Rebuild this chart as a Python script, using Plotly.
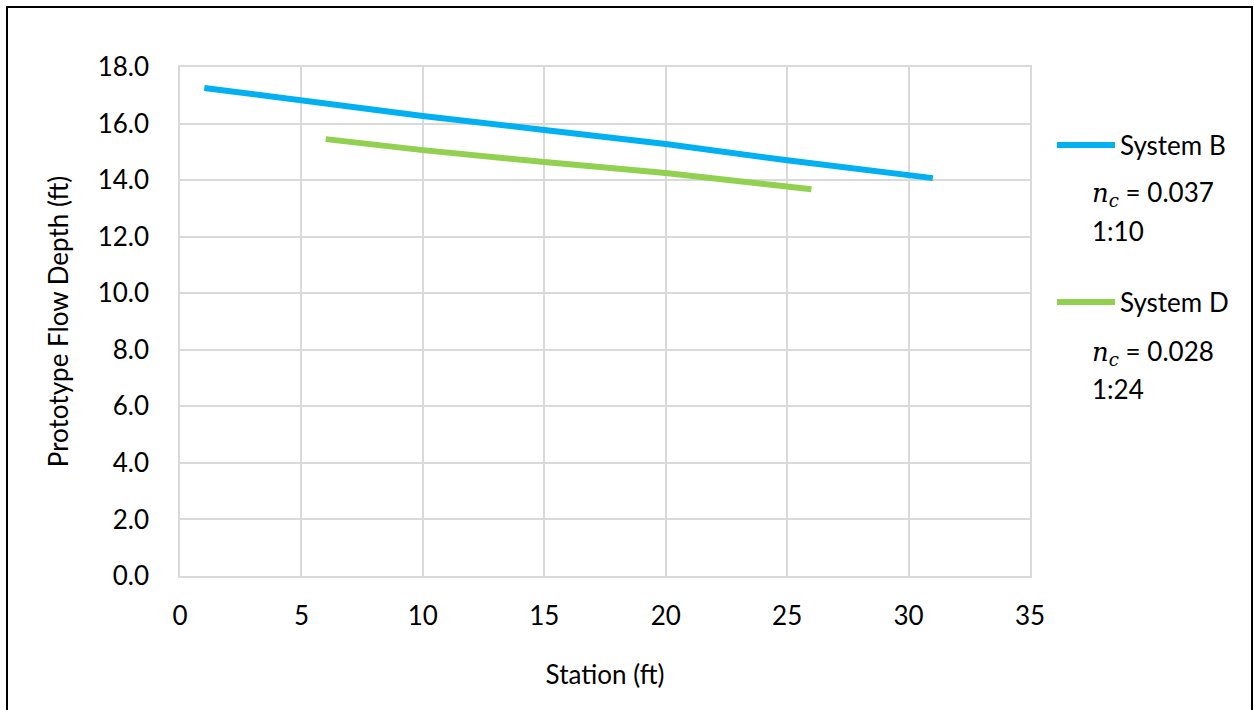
import plotly.graph_objects as go

# Data
station_b = [1, 5, 10, 15, 20, 25, 31]
depth_b = [17.26, 16.80, 16.27, 15.77, 15.28, 14.70, 14.07]
station_d = [6, 10, 15, 20, 26]
depth_d = [15.45, 15.06, 14.64, 14.25, 13.68]

name_b = "System B"
name_d = "System D"
NC = '<span style="font-family:DejaVu Serif"><i>n</i><sub><i>c</i></sub></span>'
note_b = [NC + " = 0.037", "1:10"]
note_d = [NC + " = 0.028", "1:24"]

FONT = "Lato"
FS = 26
W, H = 1254, 710
L, R, T, B = 180, 224, 67, 134
PW, PH = W - L - R, H - T - B

def px_x(p):
    return (p - L) / PW

def px_y(p):
    return (H - B - p) / PH

fig = go.Figure()
fig.add_trace(go.Scatter(x=station_b, y=depth_b, mode="lines", name=name_b, showlegend=True,
                         line=dict(color="#00B0F0", width=6), legend="legend"))
fig.add_trace(go.Scatter(x=station_d, y=depth_d, mode="lines", name=name_d, showlegend=True,
                         line=dict(color="#92D050", width=6), legend="legend2"))

legend_common = dict(font=dict(family=FONT, size=FS, color="#000"), bgcolor="rgba(0,0,0,0)",
                     xanchor="left", yanchor="middle", itemwidth=58)
fig.update_layout(
    width=W, height=H,
    margin=dict(l=L, r=R, t=T, b=B),
    paper_bgcolor="white", plot_bgcolor="white",
    font=dict(family=FONT, size=FS, color="#000"),
    legend=dict(x=px_x(1052), y=px_y(145), **legend_common),
    legend2=dict(x=px_x(1052), y=px_y(302), **legend_common),
    xaxis=dict(range=[0, 35], dtick=5, showgrid=True, gridcolor="#d9d9d9", gridwidth=1.5,
               zeroline=False, showline=True, linecolor="#d9d9d9", linewidth=1.5, mirror=True,
               ticks="", ticklabelstandoff=16,
               title=dict(text="Station (ft)", font=dict(family=FONT, size=FS), standoff=36)),
    yaxis=dict(range=[0, 18], dtick=2, tickformat=".1f", showgrid=True, gridcolor="#d9d9d9",
               gridwidth=1.5, zeroline=False, showline=True, linecolor="#d9d9d9", linewidth=1.5,
               mirror=True, ticks="", ticklabelstandoff=24,
               title=dict(text="Prototype Flow Depth (ft)", font=dict(family=FONT, size=FS), standoff=22)),
)

annots = []
for i, txt in enumerate(note_b):
    annots.append(dict(text=txt, x=px_x(1090), y=px_y(194 + 37 * i)))
for i, txt in enumerate(note_d):
    annots.append(dict(text=txt, x=px_x(1090), y=px_y(352 + 37 * i)))
for a in annots:
    fig.add_annotation(xref="paper", yref="paper", xanchor="left", yanchor="middle",
                       showarrow=False, font=dict(family=FONT, size=FS, color="#000"), **a)

# outer border of the chart
fig.add_shape(type="rect", xref="paper", yref="paper",
              x0=px_x(7), x1=px_x(1252), y0=px_y(720), y1=px_y(7),
              line=dict(color="#000", width=2), fillcolor="rgba(0,0,0,0)", layer="above")

fig.write_html("out.html")
